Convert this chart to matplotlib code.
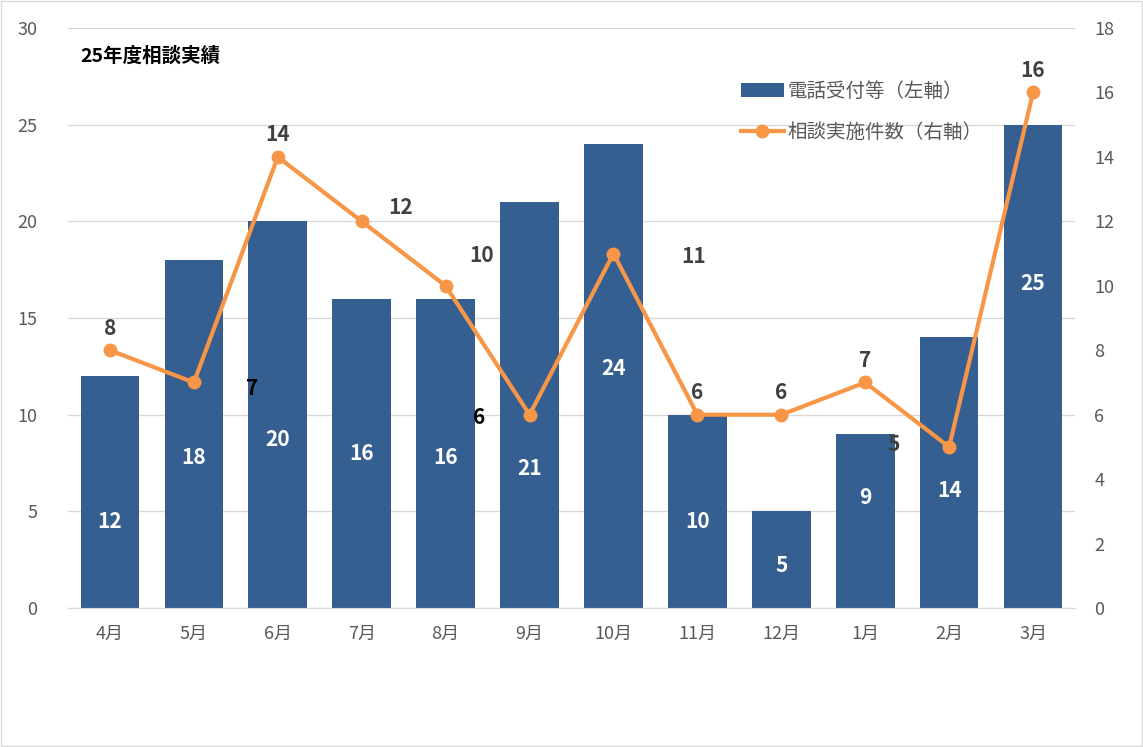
import matplotlib.pyplot as plt
from matplotlib.patches import Rectangle

plt.rcParams['font.family'] = ['Noto Sans CJK JP', 'DejaVu Sans']

months = ['4月', '5月', '6月', '7月', '8月', '9月', '10月', '11月', '12月', '1月', '2月', '3月']
calls = [12, 18, 20, 16, 16, 21, 24, 10, 5, 9, 14, 25]
consults = [8, 7, 14, 12, 10, 6, 11, 6, 6, 7, 5, 16]

# label placement (layout only)
bar_label_y = [4.5, 7.8, 8.7, 8.0, 7.8, 7.2, 12.4, 4.5, 2.2, 5.7, 6.1, 16.8]
line_off = [(0, 16), (42, -4), (0, 16), (28, 10), (26, 22), (-36, -2),
            (58, -2), (0, 16), (0, 16), (0, 16), (-40, 2), (0, 16)]
line_col = ['#404040', 'black', '#404040', '#404040', '#404040', 'black',
            '#404040', '#404040', '#404040', '#404040', '#404040', '#404040']

blue = '#365F91'
orange = '#F79646'
gray = '#595959'

fig = plt.figure(figsize=(11.43, 7.47), dpi=100)
fig.patches.append(Rectangle((0.001, 0.001), 0.998, 0.997, transform=fig.transFigure,
                             fill=False, edgecolor='#D9D9D9', lw=1))
ax = fig.add_axes([0.0595, 0.186, 0.881, 0.7765])
x = range(len(months))
ax.bar(x, calls, width=0.7, color=blue, label='電話受付等（左軸）', zorder=2)
ax.set_xlim(-0.5, 11.5)
ax.set_ylim(0, 30)
ax.set_yticks(range(0, 31, 5))
ax.grid(axis='y', color='#D9D9D9', lw=1, zorder=0)
ax.set_xticks(list(x))
ax.set_xticklabels(months)
for s in ['top', 'right', 'left']:
    ax.spines[s].set_visible(False)
ax.spines['bottom'].set_color('#D9D9D9')
ax.tick_params(length=0, labelsize=13, colors=gray, pad=12)
ax.tick_params(axis='y', pad=22)
for i, v in enumerate(calls):
    ax.text(i, bar_label_y[i], str(v), color='white', ha='center', va='center',
            fontsize=15, fontweight='bold', zorder=5)

ax2 = ax.twinx()
ax2.plot(x, consults, color=orange, lw=3, marker='o', ms=9, label='相談実施件数（右軸）', zorder=3)
ax2.set_ylim(0, 18)
ax2.set_yticks(range(0, 19, 2))
for s in ['top', 'right', 'left', 'bottom']:
    ax2.spines[s].set_visible(False)
ax2.tick_params(length=0, labelsize=13, colors=gray, pad=14)
for i, v in enumerate(consults):
    ax2.annotate(str(v), (i, v), xytext=line_off[i], textcoords='offset points',
                 ha='center', va='center', fontsize=15, fontweight='bold', color=line_col[i])

fig.text(0.07, 0.917, '25年度相談実績', fontsize=14, fontweight='bold', color='black')
h1, l1 = ax.get_legend_handles_labels()
h2, l2 = ax2.get_legend_handles_labels()
fig.legend(h1 + h2, l1 + l2, loc='upper right', bbox_to_anchor=(0.875, 0.915),
           frameon=False, fontsize=14, labelcolor=gray, handlelength=2.2,
           labelspacing=1.0, handletextpad=0.2)
fig.savefig('out.png', dpi=100)
